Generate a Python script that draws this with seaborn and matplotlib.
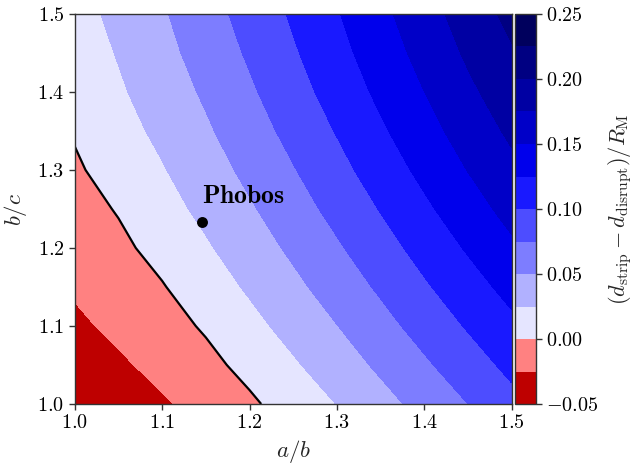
import numpy as np
import pandas as pd
import matplotlib
matplotlib.use("Agg")
import matplotlib.pyplot as plt
import matplotlib.colors as mcolors
from matplotlib.ticker import FuncFormatter, FixedLocator
import seaborn as sns

# ---- data (a/b on x, b/c on y) ----
ab_values = [1.00, 1.05, 1.10, 1.15, 1.20, 1.25, 1.30, 1.35, 1.40, 1.45, 1.50]
bc_values = [1.00, 1.05, 1.10, 1.15, 1.20, 1.25, 1.30, 1.35, 1.40, 1.45, 1.50]
delta_bc_100 = [-0.0488, -0.0384, -0.0280, -0.0162, -0.0038, 0.0104, 0.0254, 0.0415, 0.0580, 0.0750, 0.0928]
delta_bc_105 = [-0.0393, -0.0289, -0.0178, -0.0063, 0.0068, 0.0220, 0.0379, 0.0543, 0.0713, 0.0889, 0.1062]
delta_bc_110 = [-0.0300, -0.0193, -0.0087, 0.0026, 0.0178, 0.0334, 0.0495, 0.0667, 0.0843, 0.1022, 0.1195]
delta_bc_115 = [-0.0218, -0.0116, -0.0014, 0.0129, 0.0281, 0.0442, 0.0611, 0.0786, 0.0969, 0.1149, 0.1328]
delta_bc_120 = [-0.0148, -0.0049, 0.0074, 0.0221, 0.0380, 0.0545, 0.0719, 0.0902, 0.1088, 0.1275, 0.1458]
delta_bc_125 = [-0.0086, 0.0015, 0.0159, 0.0310, 0.0471, 0.0644, 0.0824, 0.1012, 0.1204, 0.1396, 0.1580]
delta_bc_130 = [-0.0031, 0.0094, 0.0233, 0.0392, 0.0559, 0.0736, 0.0923, 0.1117, 0.1313, 0.1506, 0.1692]
delta_bc_135 = [0.0020, 0.0161, 0.0304, 0.0466, 0.0640, 0.0823, 0.1014, 0.1214, 0.1412, 0.1606, 0.1795]
delta_bc_140 = [0.0068, 0.0217, 0.0370, 0.0534, 0.0714, 0.0902, 0.1099, 0.1301, 0.1499, 0.1700, 0.1890]
delta_bc_145 = [0.0114, 0.0265, 0.0426, 0.0598, 0.0781, 0.0972, 0.1173, 0.1375, 0.1579, 0.1786, 0.1980]
delta_bc_150 = [0.0158, 0.0313, 0.0474, 0.0653, 0.0839, 0.1032, 0.1234, 0.1439, 0.1651, 0.1862, 0.2069]

contour_levels = [-0.05, -0.025, 0.0, 0.025, 0.05, 0.075, 0.10, 0.125, 0.15, 0.175, 0.20, 0.225, 0.25]
cbar_ticks = [-0.05, 0.0, 0.05, 0.10, 0.15, 0.20, 0.25]
x_ticks = [1.0, 1.1, 1.2, 1.3, 1.4, 1.5]
y_ticks = [1.0, 1.1, 1.2, 1.3, 1.4, 1.5]

phobos_name = "Phobos"
phobos_ab = [1.1455]
phobos_bc = [1.2333]

# ---- styling ----
sns.set_theme(style="ticks")
plt.rcParams.update({
    "font.family": ["cmr10", "DejaVu Serif"],
    "mathtext.fontset": "cm",
    "axes.unicode_minus": True,
    "axes.formatter.use_mathtext": True,
    "axes.edgecolor": "#333333",
    "axes.linewidth": 1.0,
    "xtick.direction": "out",
    "ytick.direction": "out",
    "xtick.major.size": 4,
    "ytick.major.size": 4,
    "xtick.color": "#333333",
    "ytick.color": "#333333",
    "xtick.labelcolor": "black",
    "ytick.labelcolor": "black",
})

Z = np.array([delta_bc_100, delta_bc_105, delta_bc_110, delta_bc_115, delta_bc_120,
              delta_bc_125, delta_bc_130, delta_bc_135, delta_bc_140, delta_bc_145,
              delta_bc_150])
X, Y = np.meshgrid(ab_values, bc_values)

fig = plt.figure(figsize=(6.36, 4.68), dpi=100)
ax = fig.add_axes([74.7 / 636, 64 / 468, 437 / 636, 390 / 468])
cax = fig.add_axes([514.5 / 636, 64 / 468, 21.5 / 636, 390 / 468])

norm = mcolors.TwoSlopeNorm(vmin=-0.05, vcenter=0.0, vmax=0.25)
cf = ax.contourf(X, Y, Z, levels=contour_levels, cmap="seismic_r", norm=norm)
ax.contour(X, Y, Z, levels=[0.0], colors="black", linewidths=1.6)

pts = pd.DataFrame({"ab": phobos_ab, "bc": phobos_bc})
sns.scatterplot(data=pts, x="ab", y="bc", ax=ax, color="black", s=62,
                edgecolor="black", linewidth=0, zorder=5, legend=False)
ax.text(phobos_ab[0], phobos_bc[0] + 0.024, r"$\mathbf{%s}$" % phobos_name,
        ha="left", va="baseline", fontsize=18.5, color="black")

ax.set_xlim(1.0, 1.5)
ax.set_ylim(1.0, 1.5)
ax.xaxis.set_major_locator(FixedLocator(x_ticks))
ax.yaxis.set_major_locator(FixedLocator(y_ticks))
fmt1 = FuncFormatter(lambda v, p: r"$%.1f$" % v)
ax.xaxis.set_major_formatter(fmt1)
ax.yaxis.set_major_formatter(fmt1)
ax.tick_params(labelsize=14.5, width=1.0)
ax.set_xlabel(r"$a/b$", fontsize=16.5, labelpad=4)
ax.set_ylabel(r"$b/c$", fontsize=16.5, labelpad=6)

cb = fig.colorbar(cf, cax=cax, ticks=cbar_ticks)
cb.ax.yaxis.set_major_formatter(FuncFormatter(lambda v, p: r"$%.2f$" % v if abs(v) > 1e-9 else r"$0.00$"))
cb.ax.tick_params(labelsize=14.5, width=1.0, length=4)
cb.outline.set_linewidth(1.0)
cb.outline.set_edgecolor("#333333")
cb.set_label(r"$(d_{\rm strip}-d_{\rm disrupt})/R_{\rm M}$", fontsize=16, labelpad=5)

fig.savefig("out.png", dpi=100)
